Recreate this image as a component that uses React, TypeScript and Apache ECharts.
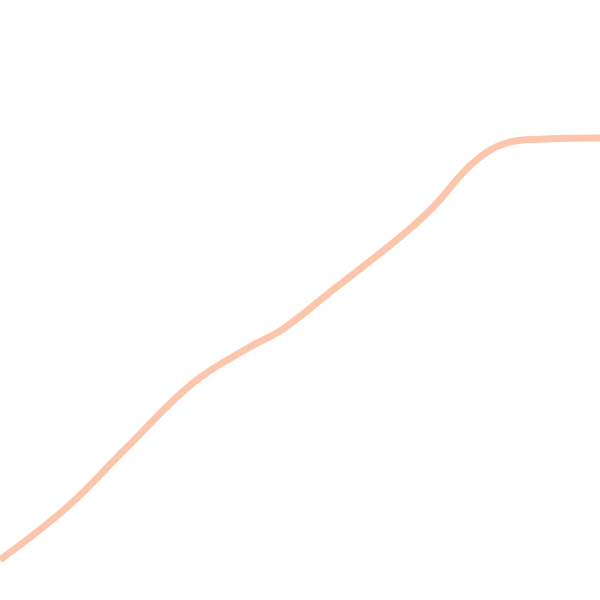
import { useEffect, useRef } from 'react';
import * as echarts from 'echarts';

// x positions and cumulative values
const xs = [0, 11.2, 21.2, 32.2, 41.7, 47.2, 55.5, 66.7, 72.2, 78.8, 84.5, 90, 100];
const ys = [6.7, 15.5, 25.5, 36.2, 42.2, 45.2, 51.7, 60.5, 65.5, 72.8, 76.2, 76.8, 77];

export default function App() {
  const chartRef = useRef<HTMLDivElement>(null);

  useEffect(() => {
    if (!chartRef.current) return;
    const chart = echarts.init(chartRef.current, undefined, { renderer: 'svg' });
    chart.setOption({
      animation: false,
      backgroundColor: '#ffffff',
      grid: { left: 0, right: 0, top: 0, bottom: 0 },
      xAxis: { type: 'value', min: 0, max: 100, show: false },
      yAxis: { type: 'value', min: 0, max: 100, show: false },
      series: [
        {
          type: 'line',
          data: xs.map((x, i) => [x, ys[i]]),
          smooth: 0.4,
          showSymbol: false,
          clip: false,
          lineStyle: { color: '#fcc6ad', width: 7 },
        },
      ],
    });
    return () => chart.dispose();
  }, []);

  return (
    <div
      ref={chartRef}
      style={{ position: 'fixed', left: 0, top: 0, width: 600, height: 600 }}
    />
  );
}
